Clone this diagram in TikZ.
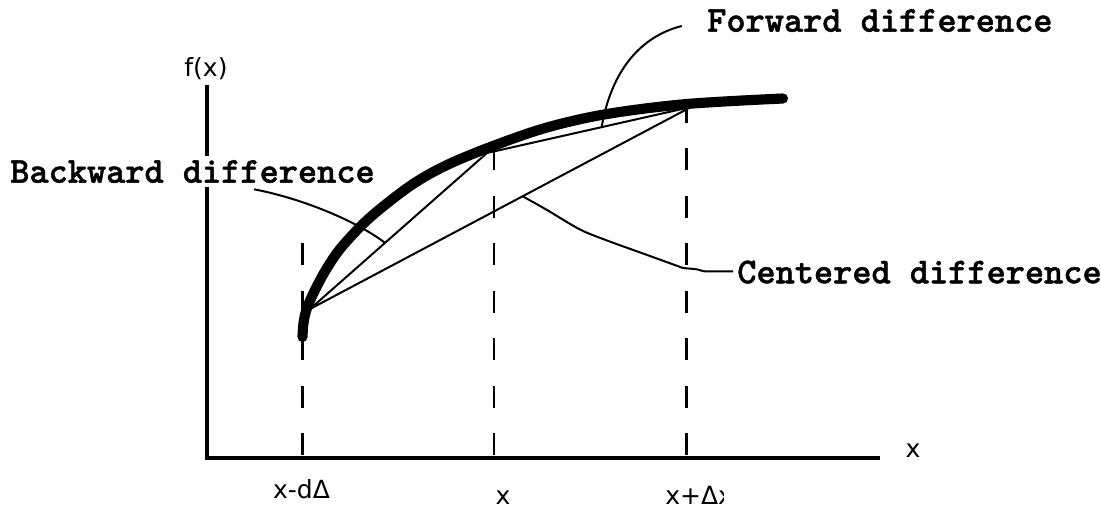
\documentclass[tikz,border=0pt]{standalone}
\usepackage{fontspec}
\newfontfamily\axfont{DejaVu Sans}
\newfontfamily\lblfont{lmmonolt10-bold.otf}[FakeBold=1.2]
\usetikzlibrary{calc}
\begin{document}
\begin{tikzpicture}[x=0.75pt,y=-0.75pt,
  axisline/.style={line width=3pt},
  curveline/.style={line width=7.6pt, line cap=round, line join=round},
  chord/.style={line width=1.5pt},
  dropline/.style={line width=1.6pt, dash pattern=on 16.5pt off 19.1pt},
  leader/.style={line width=1.5pt},
  lbl/.style={font={\lblfont\fontsize{27.4pt}{30pt}\selectfont}, inner xsep=0pt, inner ysep=3pt, fill=white},
  ticklbl/.style={font={\axfont\fontsize{18.75pt}{22pt}\selectfont}, inner sep=0pt}]
\useasboundingbox (0,0) rectangle (1101,509);
% axes
\coordinate (O) at (207,458);
\coordinate (Ytop) at (207,85);
\coordinate (Xend) at (880,458);
\draw[axisline] (Ytop) -- (O) -- (Xend);
% dropped dashed lines
\coordinate (d1t) at (302.5,242);
\coordinate (d1b) at (302.5,455);
\coordinate (d2t) at (494,150);
\coordinate (d2b) at (494,455);
\coordinate (d3t) at (686.5,105);
\coordinate (d3b) at (686.5,455);
\draw[dropline] (d1b) -- (d1t);
\draw[dropline] (d2b) -- (d2t);
\draw[dropline] (d3b) -- (d3t);
% curve
\draw[curveline] plot[smooth, tension=0.55] coordinates {(302.5,337) (303.5,323) (307,308) (316,288) (327,268) (340,249) (360,227) (380,209) (413,184) (447,165) (493,146) (547,127.5) (607,114) (687,104) (783,98.5)};
% chords
\coordinate (A) at (310,309);
\coordinate (B) at (487,153);
\coordinate (C) at (691,107);
\draw[chord] (A) -- (B);
\draw[chord] (A) -- (C);
\draw[chord] (B) -- (C);
% labels
\node[lbl, anchor=base west] (bwd) at (10,182.7) {Backward difference};
\node[lbl, anchor=base west] (fwd) at (707,31.7) {Forward difference};
\node[lbl, anchor=base west] (ctr) at (737,283.3) {Centered difference};
% leaders
\coordinate (bs) at (254,189.3);
\coordinate (be) at ($(A)!0.424!(B)$);
\draw[leader] (bs) .. controls (300,198) and (355,220) .. (be);
\coordinate (fs) at (681.7,26);
\coordinate (fe) at ($(B)!0.562!(C)$);
\draw[leader] (fs) .. controls (635,38) and (610,78) .. (fe);
\coordinate (cs) at ($(A)!0.558!(C)$);
\coordinate (ce) at (733,271.5);
\draw[leader] plot[smooth, tension=0.5] coordinates {(cs) (547,210) (580,229.5) (607,240.5) (643,253.5) (683,268)} -- (694,269) .. controls (699,269) and (701,271.5) .. (707,271.5) -- (ce);
% tick labels
\node[ticklbl, anchor=base] (fx) at (206,76.5) {f(x)};
\node[ticklbl, anchor=base] (xaxis) at (913,458) {x};
\node[ticklbl, anchor=base] (xm) at (301.5,499) {x-dΔ};
\node[ticklbl, anchor=base] (xc) at (503,505) {x};
\begin{scope}
\clip (0,0) rectangle (723,509);
\node[ticklbl, anchor=base west] (xp) at (665,505) {x+Δx};
\end{scope}
\end{tikzpicture}
\end{document}
